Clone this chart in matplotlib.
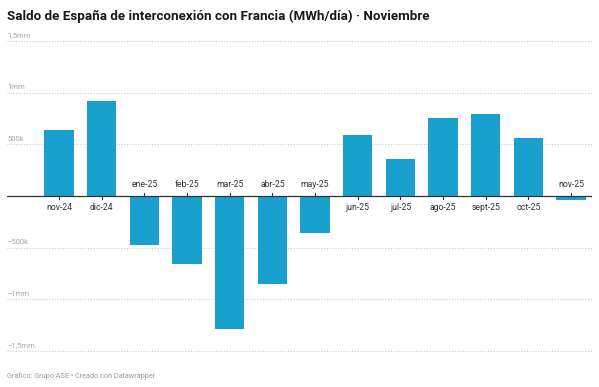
import matplotlib
matplotlib.use("Agg")
from matplotlib import pyplot as plt
import numpy as np

plt.rcParams['font.family'] = ['Roboto', 'DejaVu Sans']

months = ['nov-24', 'dic-24', 'ene-25', 'feb-25', 'mar-25', 'abr-25', 'may-25',
          'jun-25', 'jul-25', 'ago-25', 'sept-25', 'oct-25', 'nov-25']
saldo = [638000, 919000, -471000, -658000, -1283000, -851000, -358000,
         593000, 361000, 757000, 793000, 564000, -39000]

ytick_vals = [1500000, 1000000, 500000, -500000, -1000000, -1500000]
ytick_labels = ['1,5mm', '1mm', '500k', '\u2212500k', '\u22121mm', '\u22121,5mm']

title = 'Saldo de España de interconexión con Francia (MWh/día) · Noviembre'
footer = 'Gráfico: Grupo ASE • Creado con Datawrapper'

bar_color = '#1aa0cf'

fig = plt.figure(figsize=(5.99, 3.87), dpi=100)
ax = fig.add_axes([7 / 599, 0.0793, 585 / 599, 0.8284])

x = np.arange(len(months))
ax.bar(x, saldo, 0.69, color=bar_color, zorder=2)

ax.set_xlim(-1.22, len(months) - 0.51)
ax.set_ylim(-1550000, 1550000)

# dotted gridlines with labels sitting on them
for v, lab in zip(ytick_vals, ytick_labels):
    ax.axhline(v, color='#cccccc', lw=0.8, ls=(0, (1, 1.5)), zorder=1)
    ax.annotate(lab, xy=(0, v), xycoords=('axes fraction', 'data'),
                xytext=(0, 2), textcoords='offset points',
                ha='left', va='bottom', fontsize=5.5, color='#a8a8a8')

ax.axhline(0, color='#333333', lw=0.9, zorder=3)

# month labels: below zero for positive bars, above for negative
for i, (m, v) in enumerate(zip(months, saldo)):
    if v >= 0:
        ax.plot([i, i], [0, -30000], color='#333333', lw=0.8, zorder=3)
        ax.annotate(m, xy=(i, 0), xytext=(0, -5), textcoords='offset points',
                    ha='center', va='top', fontsize=6.2, color='#333333')
    else:
        ax.plot([i, i], [0, 30000], color='#333333', lw=0.8, zorder=3)
        ax.annotate(m, xy=(i, 0), xytext=(0, 5), textcoords='offset points',
                    ha='center', va='bottom', fontsize=6.2, color='#333333')

ax.axis('off')

fig.text(7 / 599, 1 - 16 / 387, title, fontsize=9.6, fontweight='bold',
         color='#181818', ha='left', va='center')
fig.text(7 / 599, 1 - 376 / 387, footer, fontsize=5.2, color='#9a9a9a',
         ha='left', va='center')

fig.savefig('out.png', dpi=100, facecolor='white')
